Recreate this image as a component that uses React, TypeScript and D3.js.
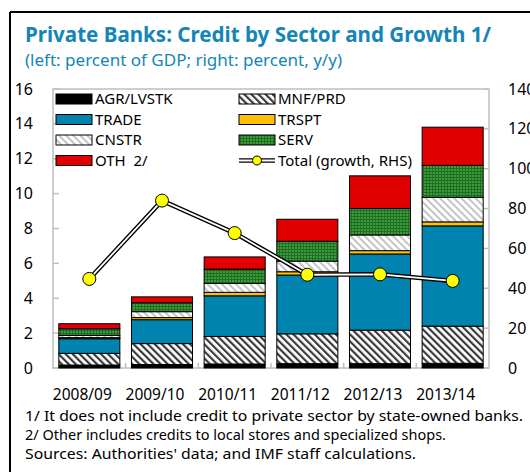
import React from "react";
import * as d3 from "d3";

const categories = ["2008/09", "2009/10", "2010/11", "2011/12", "2012/13", "2013/14"];
const agr = [0.17, 0.2, 0.23, 0.25, 0.25, 0.27];
const mnf = [0.67, 1.2, 1.58, 1.71, 1.92, 2.13];
const trade = [0.84, 1.37, 2.33, 3.37, 4.37, 5.75];
const trspt = [0.06, 0.12, 0.2, 0.19, 0.19, 0.23];
const cnstr = [0.13, 0.34, 0.51, 0.61, 0.9, 1.41];
const serv = [0.38, 0.51, 0.82, 1.14, 1.52, 1.83];
const oth = [0.29, 0.34, 0.7, 1.26, 1.87, 2.19];
const growth = [44.7, 84, 67.7, 46.8, 47, 43.7];
const leftTicks = [0, 2, 4, 6, 8, 10, 12, 14, 16];
const rightTicks = [0, 20, 40, 60, 80, 100, 120, 140];

const seriesNames = ["AGR/LVSTK", "MNF/PRD", "TRADE", "TRSPT", "CNSTR", "SERV", "OTH  2/"];
const seriesFills = ["#000000", "url(#pMnf)", "#0083AE", "#FFC000", "url(#pCn)", "url(#pServ)", "#E00000"];
const seriesData = [agr, mnf, trade, trspt, cnstr, serv, oth];

const footnotes = [
  "1/ It does not include credit to private sector by state-owned banks.",
  "2/ Other includes credits to local stores and specialized shops.",
  "Sources: Authorities' data; and IMF staff calculations.",
];
const footnoteWidths = [498, 421, 391];

const FONT = "'Noto Sans', 'Open Sans', sans-serif";
const TITLE_COLOR = "#1585B6";

export default function App() {
  const left = 53, right = 489, top = 89, bottom = 368;
  const x = d3.scaleBand<string>().domain(categories).range([left, right]).paddingInner(0.16).paddingOuter(0.08);
  const xb = d3.scaleBand<string>().domain(categories).range([left, right]);
  const yL = d3.scaleLinear().domain([0, 16]).range([bottom, top]);
  const yR = d3.scaleLinear().domain([0, 140]).range([bottom, top]);

  const rows = categories.map((c, i) => {
    const o: any = { cat: c };
    seriesNames.forEach((s, k) => (o[s] = seriesData[k][i]));
    return o;
  });
  const stacked = d3.stack<any>().keys(seriesNames)(rows);

  const linePts: [number, number][] = categories.map((c, i) => [x(c)! + x.bandwidth() / 2, yR(growth[i])]);
  const lineGen = d3.line();
  const lpath = lineGen(linePts) || "";

  const legendItems = [
    { k: 0, col: 0, row: 0 },
    { k: 1, col: 1, row: 0 },
    { k: 2, col: 0, row: 1 },
    { k: 3, col: 1, row: 1 },
    { k: 4, col: 0, row: 2 },
    { k: 5, col: 1, row: 2 },
    { k: 6, col: 0, row: 3 },
  ];
  const legX = [56, 239];
  const legY0 = 99, legDy = 20.5;

  return (
    <svg width={530} height={472} style={{ position: "absolute", left: 0, top: 0, background: "#fff" }} fontFamily={FONT}>
      <defs>
        <pattern id="pMnf" patternUnits="userSpaceOnUse" width={5} height={5} patternTransform="rotate(-45)">
          <rect width={5} height={5} fill="#fff" />
          <rect x={0} y={0} width={2.2} height={5} fill="#3a3a3a" />
        </pattern>
        <pattern id="pCn" patternUnits="userSpaceOnUse" width={5} height={5} patternTransform="rotate(-45)">
          <rect width={5} height={5} fill="#fff" />
          <rect x={0} y={0} width={2} height={5} fill="#c4c4c4" />
        </pattern>
        <pattern id="pServ" patternUnits="userSpaceOnUse" width={3} height={3}>
          <rect width={3} height={3} fill="#3E9A3E" />
          <rect x={0} y={0} width={3} height={1} fill="#1F6E1F" />
          <rect x={0} y={0} width={1} height={3} fill="#1F6E1F" />
        </pattern>
      </defs>

      {/* outer frame */}
      <line x1={10} y1={12} x2={530} y2={12} stroke="#000" strokeWidth={2} />
      <line x1={10} y1={12} x2={10} y2={472} stroke="#000" strokeWidth={2} />

      <text x={25} y={42} fill={TITLE_COLOR} fontSize={20.5} fontWeight="bold" textLength={466} lengthAdjust="spacingAndGlyphs">Private Banks: Credit by Sector and Growth 1/</text>
      <text x={25} y={66} fill={TITLE_COLOR} fontSize={15.8} textLength={317} lengthAdjust="spacingAndGlyphs">(left: percent of GDP; right: percent, y/y)</text>

      {/* plot frame */}
      <rect x={left} y={top} width={right - left} height={bottom - top} fill="none" stroke="#bfbfbf" strokeWidth={1.5} />
      {leftTicks.map((t) => (
        <g key={"l" + t}>
          <line x1={left} x2={left + 6} y1={yL(t)} y2={yL(t)} stroke="#bfbfbf" strokeWidth={1.5} />
          <text x={33} y={yL(t)} dy="0.35em" textAnchor="end" fontSize={16} fill="#000">{t}</text>
        </g>
      ))}
      {rightTicks.map((t) => (
        <g key={"r" + t}>
          <line x1={right - 5} x2={right} y1={yR(t)} y2={yR(t)} stroke="#bfbfbf" strokeWidth={1.5} />
          <text x={508} y={yR(t)} dy="0.35em" textAnchor="start" fontSize={16} fill="#000">{t}</text>
        </g>
      ))}
      {categories.slice(1).map((c) => (
        <line key={"t" + c} x1={xb(c)!} x2={xb(c)!} y1={bottom} y2={bottom - 5} stroke="#bfbfbf" strokeWidth={1.5} />
      ))}
      {categories.map((c) => (
        <text key={"c" + c} x={x(c)! + x.bandwidth() / 2 - 7} y={400} textAnchor="middle" fontSize={15.5} fill="#000">{c}</text>
      ))}

      {/* bars */}
      {stacked.map((s, k) => (
        <g key={s.key}>
          {s.map((d, i) => (
            <rect key={i} x={x(categories[i])!} width={x.bandwidth()} y={yL(d[1])} height={yL(d[0]) - yL(d[1])}
              fill={seriesFills[k]} stroke="#000" strokeWidth={1} />
          ))}
        </g>
      ))}

      {/* line */}
      <path d={lpath} fill="none" stroke="#000" strokeWidth={4.5} strokeLinejoin="round" />
      <path d={lpath} fill="none" stroke="#fff" strokeWidth={1.8} strokeLinejoin="round" />
      {linePts.map((p, i) => (
        <circle key={i} cx={p[0]} cy={p[1]} r={6.5} fill="#FFFF00" stroke="#000" strokeWidth={1} />
      ))}

      {/* legend */}
      {legendItems.map((it) => (
        <g key={"lg" + it.k}>
          <rect x={legX[it.col]} y={legY0 + it.row * legDy - 5} width={36} height={10} fill={seriesFills[it.k]} stroke="#000" strokeWidth={1} />
          <text x={legX[it.col] + 39} y={legY0 + it.row * legDy} dy="0.35em" fontSize={15} fill="#000" style={{ whiteSpace: "pre" }}>{seriesNames[it.k]}</text>
        </g>
      ))}
      <g>
        <line x1={legX[1]} x2={legX[1] + 36} y1={legY0 + 3 * legDy} y2={legY0 + 3 * legDy} stroke="#000" strokeWidth={4.5} />
        <line x1={legX[1]} x2={legX[1] + 36} y1={legY0 + 3 * legDy} y2={legY0 + 3 * legDy} stroke="#fff" strokeWidth={1.8} />
        <circle cx={legX[1] + 18} cy={legY0 + 3 * legDy} r={4.5} fill="#FFFF00" stroke="#000" strokeWidth={1} />
        <text x={legX[1] + 39} y={legY0 + 3 * legDy} dy="0.35em" fontSize={15} fill="#000">Total (growth, RHS)</text>
      </g>

      {/* footnotes */}
      {footnotes.map((f, i) => (
        <text key={"f" + i} x={25} y={421 + i * 19} fontSize={14.5} fill="#000" textLength={footnoteWidths[i]} lengthAdjust="spacingAndGlyphs">{f}</text>
      ))}
    </svg>
  );
}
